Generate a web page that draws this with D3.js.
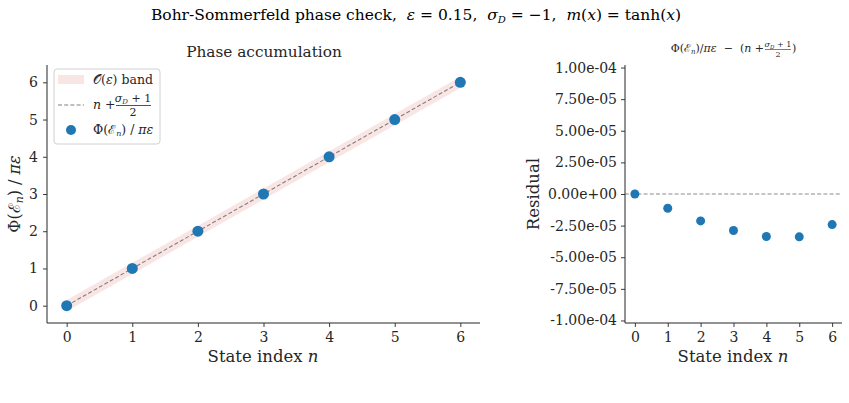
<!DOCTYPE html>
<html>
<head>
<meta charset="utf-8">
<script src="https://cdn.jsdelivr.net/npm/d3@7"></script>
<style>
  body { margin: 0; background: #fff; }
  svg { font-family: "DejaVu Serif", serif; }
  .tick text { font-family: "DejaVu Serif", serif; }
</style>
</head>
<body>
<svg id="chart" width="849" height="403"></svg>
<script>
// data
const stateIndex = [0, 1, 2, 3, 4, 5, 6];
const residual = [0, -1.13e-5, -2.13e-5, -2.89e-5, -3.36e-5, -3.39e-5, -2.42e-5];
const phase = stateIndex.map((n, i) => n + residual[i]);
const eps = 0.15;
const sigmaD = -1;
const yTicksLeft = [0, 1, 2, 3, 4, 5, 6];
const yTicksRight = [1e-4, 7.5e-5, 5e-5, 2.5e-5, 0, -2.5e-5, -5e-5, -7.5e-5, -1e-4];

const svg = d3.select('#chart');
const blue = '#1f77b4';
const ink = '#262626';

// title
svg.append('text')
  .attr('x', 416).attr('y', 20)
  .attr('text-anchor', 'middle')
  .attr('font-size', '15.5px')
  .html('Bohr-Sommerfeld phase check,&#160;&#160;<tspan font-style="italic">ε</tspan> = 0.15,&#160;&#160;<tspan font-style="italic">σ</tspan><tspan font-style="italic" font-size="10px" dy="3">D</tspan><tspan dy="-3"> = −1,&#160;&#160;</tspan><tspan font-style="italic">m</tspan>(<tspan font-style="italic">x</tspan>) = tanh(<tspan font-style="italic">x</tspan>)');

// ---------- left panel ----------
const L = { left: 47, right: 480, top: 65, bottom: 323 };
const xL = d3.scaleLinear().domain([-0.3, 6.3]).range([L.left, L.right]);
const yL = d3.scaleLinear().domain([-0.465, 6.465]).range([L.bottom, L.top]);

const gL = svg.append('g');

gL.append('path')
  .datum(stateIndex)
  .attr('fill', '#d62728')
  .attr('fill-opacity', 0.12)
  .attr('d', d3.area()
    .x(d => xL(d))
    .y0(d => yL(d - eps))
    .y1(d => yL(d + eps)));

gL.append('path')
  .datum(stateIndex)
  .attr('fill', 'none')
  .attr('stroke', '#808080')
  .attr('stroke-width', 1.1)
  .attr('stroke-dasharray', '4,2.2')
  .attr('d', d3.line()
    .x(d => xL(d))
    .y(d => yL(d + (sigmaD + 1) / 2)));

gL.selectAll('circle')
  .data(phase)
  .enter()
  .append('circle')
  .attr('cx', (_, i) => xL(stateIndex[i]))
  .attr('cy', d => yL(d))
  .attr('r', 5.5)
  .attr('fill', blue);

const axL = gL.append('g')
  .attr('transform', `translate(0,${L.bottom})`)
  .call(d3.axisBottom(xL).tickValues(stateIndex).tickFormat(d3.format('d')).tickSize(4).tickPadding(5));
const ayL = gL.append('g')
  .attr('transform', `translate(${L.left},0)`)
  .call(d3.axisLeft(yL).tickValues(yTicksLeft).tickFormat(d3.format('d')).tickSize(4).tickPadding(5));

[axL, ayL].forEach(a => {
  a.selectAll('text').attr('font-size', '14px').attr('fill', ink);
  a.selectAll('line').attr('stroke', ink).attr('stroke-width', 0.9);
  a.select('.domain').attr('stroke', ink).attr('stroke-width', 1);
});
axL.select('.domain').attr('d', `M${L.left},0H${L.right}`);
ayL.select('.domain').attr('d', `M0,${L.top}V${L.bottom}`);

gL.append('text')
  .attr('x', 264).attr('y', 57)
  .attr('text-anchor', 'middle').attr('font-size', '15.3px').attr('fill', ink)
  .text('Phase accumulation');

gL.append('text')
  .attr('x', 263).attr('y', 362)
  .attr('text-anchor', 'middle').attr('font-size', '16.5px').attr('fill', ink)
  .html('State index <tspan font-style="italic">n</tspan>');

gL.append('text')
  .attr('transform', `translate(20,${(L.top + L.bottom) / 2}) rotate(-90)`)
  .attr('text-anchor', 'middle').attr('font-size', '16px').attr('fill', ink)
  .html('Φ(ℰ<tspan font-style="italic" font-size="11px" dy="3">n</tspan><tspan dy="-3">) / </tspan><tspan font-style="italic">πε</tspan>');

// legend
const lg = gL.append('g');
lg.append('rect')
  .attr('x', 54).attr('y', 69).attr('width', 106).attr('height', 75)
  .attr('rx', 3).attr('fill', '#fff').attr('fill-opacity', 0.8)
  .attr('stroke', '#d0d0d0').attr('stroke-width', 1);
lg.append('rect')
  .attr('x', 58).attr('y', 75).attr('width', 26).attr('height', 9)
  .attr('fill', '#d62728').attr('fill-opacity', 0.12);
lg.append('line')
  .attr('x1', 58).attr('x2', 84).attr('y1', 105).attr('y2', 105)
  .attr('stroke', '#808080').attr('stroke-width', 1.1).attr('stroke-dasharray', '4,2.2');
lg.append('circle').attr('cx', 71).attr('cy', 130).attr('r', 5).attr('fill', blue);
lg.append('text').attr('x', 93).attr('y', 84).attr('font-size', '12.5px').attr('fill', ink)
  .html('𝒪(<tspan font-style="italic">ε</tspan>) band');
lg.append('text').attr('x', 93).attr('y', 109).attr('font-size', '12.5px').attr('fill', ink)
  .html('<tspan font-style="italic">n</tspan> +');
lg.append('text').attr('x', 133).attr('y', 102).attr('text-anchor', 'middle')
  .attr('font-size', '11px').attr('fill', ink)
  .html('<tspan font-style="italic">σ</tspan><tspan font-style="italic" font-size="7px" dy="2">D</tspan><tspan dy="-2"> + 1</tspan>');
lg.append('line').attr('x1', 116).attr('x2', 151).attr('y1', 105.5).attr('y2', 105.5)
  .attr('stroke', ink).attr('stroke-width', 0.8);
lg.append('text').attr('x', 133).attr('y', 116).attr('text-anchor', 'middle')
  .attr('font-size', '11px').attr('fill', ink).text('2');
lg.append('text').attr('x', 93).attr('y', 134).attr('font-size', '12.5px').attr('fill', ink)
  .html('Φ(ℰ<tspan font-style="italic" font-size="8px" dy="2">n</tspan><tspan dy="-2">) / </tspan><tspan font-style="italic">πε</tspan>');

// ---------- right panel ----------
const R = { left: 625, right: 842, top: 65, bottom: 323 };
const xR = d3.scaleLinear().domain([-0.3, 6.3]).range([R.left, R.right]);
const yR = d3.scaleLinear().domain([-1.02e-4, 1.02e-4]).range([R.bottom, R.top]);

const gR = svg.append('g');

gR.append('line')
  .attr('x1', R.left).attr('x2', R.right)
  .attr('y1', yR(0)).attr('y2', yR(0))
  .attr('stroke', '#808080').attr('stroke-width', 0.9).attr('stroke-dasharray', '4,2.2');

gR.selectAll('circle')
  .data(residual)
  .enter()
  .append('circle')
  .attr('cx', (_, i) => xR(stateIndex[i]))
  .attr('cy', d => yR(d))
  .attr('r', 4.5)
  .attr('fill', blue);

const fmt = v => v.toExponential(2).replace(/e([+-])(\d)$/, 'e$10$2');

const axR = gR.append('g')
  .attr('transform', `translate(0,${R.bottom})`)
  .call(d3.axisBottom(xR).tickValues(stateIndex).tickFormat(d3.format('d')).tickSize(4).tickPadding(5));
const ayR = gR.append('g')
  .attr('transform', `translate(${R.left},0)`)
  .call(d3.axisLeft(yR).tickValues(yTicksRight).tickFormat(fmt).tickSize(4).tickPadding(4));

[axR, ayR].forEach(a => {
  a.selectAll('text').attr('font-size', '14px').attr('fill', ink);
  a.selectAll('line').attr('stroke', ink).attr('stroke-width', 0.9);
  a.select('.domain').attr('stroke', ink).attr('stroke-width', 1);
});
axR.select('.domain').attr('d', `M${R.left},0H${R.right}`);
ayR.select('.domain').attr('d', `M0,${R.top}V${R.bottom}`);

// right title with a small fraction, laid out by measuring
const tR = gR.append('g').attr('fill', ink);
const t1 = tR.append('text').attr('y', 52).attr('font-size', '11px')
  .html('Φ(ℰ<tspan font-style="italic" font-size="7px" dy="2">n</tspan><tspan dy="-2">)/</tspan><tspan font-style="italic">πε</tspan>&#160; −&#160; (<tspan font-style="italic">n</tspan> +');
const w1 = t1.node().getComputedTextLength();
const fracW = 26;
const t3 = tR.append('text').attr('y', 52).attr('font-size', '11px').text(')');
const w3 = t3.node().getComputedTextLength();
const total = w1 + 2 + fracW + w3;
const x0 = (R.left + R.right) / 2 - total / 2;
t1.attr('x', x0);
const fx = x0 + w1 + 1 + fracW / 2;
tR.append('text').attr('x', fx).attr('y', 47).attr('text-anchor', 'middle').attr('font-size', '8px')
  .html('<tspan font-style="italic">σ</tspan><tspan font-style="italic" font-size="5.5px" dy="1.5">D</tspan><tspan dy="-1.5"> + 1</tspan>');
tR.append('line').attr('x1', fx - fracW / 2).attr('x2', fx + fracW / 2).attr('y1', 49.5).attr('y2', 49.5)
  .attr('stroke', ink).attr('stroke-width', 0.6);
tR.append('text').attr('x', fx).attr('y', 57).attr('text-anchor', 'middle').attr('font-size', '8px').text('2');
t3.attr('x', x0 + w1 + 2 + fracW);

gR.append('text')
  .attr('x', 733).attr('y', 362)
  .attr('text-anchor', 'middle').attr('font-size', '16.5px').attr('fill', ink)
  .html('State index <tspan font-style="italic">n</tspan>');

gR.append('text')
  .attr('transform', `translate(539,${(R.top + R.bottom) / 2}) rotate(-90)`)
  .attr('text-anchor', 'middle').attr('font-size', '16.5px').attr('fill', ink)
  .text('Residual');
</script>
</body>
</html>
